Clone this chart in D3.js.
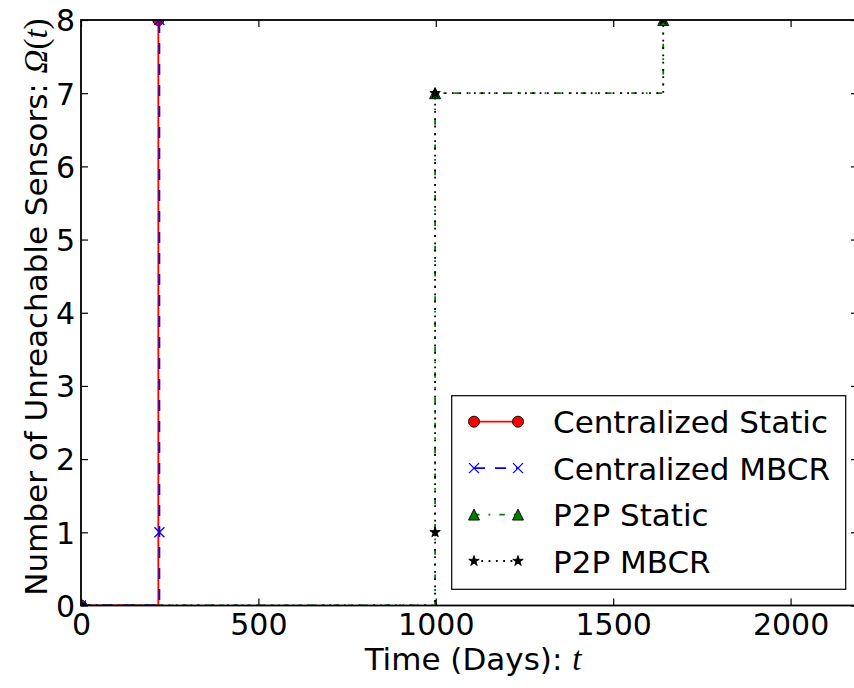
<!DOCTYPE html>
<html>
<head>
<meta charset="utf-8">
<script src="https://cdn.jsdelivr.net/npm/d3@7/dist/d3.min.js"></script>
<style>
  html, body { margin: 0; padding: 0; background: #fff; }
  svg { display: block; }
  text { font-family: "DejaVu Sans", sans-serif; fill: #000; }
  .math { font-family: "Liberation Serif", "DejaVu Serif", serif; font-style: italic; }
  .upright { font-family: "Liberation Serif", "DejaVu Serif", serif; font-style: normal; }
</style>
</head>
<body>
<svg id="chart" width="854" height="688"></svg>
<script>
// Unreachable sensors over time, one step series per routing scheme
const centralStaticDays  = [0, 218];
const centralStaticCount = [0, 8];
const centralMbcrDays    = [0, 221, 221];
const centralMbcrCount   = [0, 1, 8];
const p2pStaticDays      = [0, 998, 1641];
const p2pStaticCount     = [0, 7, 8];
const p2pMbcrDays        = [0, 998, 998, 1641];
const p2pMbcrCount       = [0, 1, 7, 8];

const seriesNames = ["Centralized Static", "Centralized MBCR", "P2P Static", "P2P MBCR"];
const xTickValues = [0, 500, 1000, 1500, 2000];
const yTickValues = [0, 1, 2, 3, 4, 5, 6, 7, 8];
const xDomain = [0, 2190];
const yDomain = [0, 8];

const margin = { left: 81, top: 20, right: 858, bottom: 605.5 };
const svg = d3.select("#chart");

const x = d3.scaleLinear().domain(xDomain).range([margin.left, margin.right]);
const y = d3.scaleLinear().domain(yDomain).range([margin.bottom, margin.top]);

// marker shapes (size = full width in px)
function markerPath(kind, s) {
  const h = s / 2;
  if (kind === "circle") return d3.symbol(d3.symbolCircle, Math.PI * h * h)();
  if (kind === "x") return `M${-h},${-h}L${h},${h}M${-h},${h}L${h},${-h}`;
  if (kind === "triangle") return `M0,${-h}L${h},${h}L${-h},${h}Z`;
  if (kind === "star") return d3.symbol(d3.symbolStar, (h * h) / 0.8908130915292852)();
  return "";
}

const series = [
  { name: seriesNames[0], days: centralStaticDays, count: centralStaticCount,
    color: "#ff0000", dash: null, marker: "circle", fill: "#ff0000", edge: "#000", msize: 11 },
  { name: seriesNames[1], days: centralMbcrDays, count: centralMbcrCount,
    color: "#0000ff", dash: "11,10", marker: "x", fill: "none", edge: "#0000ff", msize: 10 },
  { name: seriesNames[2], days: p2pStaticDays, count: p2pStaticCount,
    color: "#008000", dash: "5.5,9,1.8,9", marker: "triangle", fill: "#008000", edge: "#000", msize: 11 },
  { name: seriesNames[3], days: p2pMbcrDays, count: p2pMbcrCount,
    color: "#000000", dash: "1.8,5.5", marker: "star", fill: "#000", edge: "#000", msize: 11 }
];

svg.append("defs").append("clipPath").attr("id", "plot-clip")
  .append("rect")
  .attr("x", margin.left).attr("y", margin.top)
  .attr("width", margin.right - margin.left)
  .attr("height", margin.bottom - margin.top);

const plot = svg.append("g").attr("clip-path", "url(#plot-clip)");

const line = d3.line()
  .x(d => x(d[0]))
  .y(d => y(d[1]))
  .curve(d3.curveStepAfter);

series.forEach(s => {
  const pts = s.days.map((d, i) => [d, s.count[i]]);
  plot.append("path")
    .datum(pts)
    .attr("d", line)
    .attr("fill", "none")
    .attr("stroke", s.color)
    .attr("stroke-width", 1.8)
    .attr("stroke-dasharray", s.dash);
  plot.selectAll(null)
    .data(pts)
    .enter()
    .append("path")
    .attr("transform", d => `translate(${x(d[0])},${y(d[1])})`)
    .attr("d", markerPath(s.marker, s.msize))
    .attr("fill", s.fill)
    .attr("stroke", s.edge)
    .attr("stroke-width", s.marker === "x" ? 1.3 : 0.9);
});

// axes frame with inward ticks on all sides
const axisStroke = 1.8;
const tickLen = 7;
const frame = svg.append("g");

const xBottom = d3.axisBottom(x).tickValues(xTickValues).tickSize(-tickLen).tickPadding(8).tickFormat(d3.format("d"));
const xTop = d3.axisTop(x).tickValues(xTickValues).tickSize(-tickLen).tickFormat("");
const yLeft = d3.axisLeft(y).tickValues(yTickValues).tickSize(-tickLen).tickPadding(6).tickFormat(d3.format("d"));
const yRight = d3.axisRight(y).tickValues(yTickValues).tickSize(-tickLen).tickFormat("");

function styleAxis(g) {
  g.select(".domain").remove();
  g.selectAll(".tick line").attr("stroke", "#000").attr("stroke-width", 1.2);
  g.selectAll(".tick text")
    .style("font-family", "'DejaVu Sans', sans-serif")
    .style("font-size", "30px")
    .attr("fill", "#000");
}

frame.append("g").attr("transform", `translate(0,${margin.bottom})`).call(xBottom).call(styleAxis);
frame.append("g").attr("transform", `translate(0,${margin.top})`).call(xTop).call(styleAxis);
frame.append("g").attr("class", "y-left").attr("transform", `translate(${margin.left},0)`).call(yLeft).call(styleAxis);
frame.append("g").attr("transform", `translate(${margin.right},0)`).call(yRight).call(styleAxis);

frame.select(".y-left").selectAll(".tick text").attr("dy", "0.36em");

frame.append("rect")
  .attr("x", margin.left).attr("y", margin.top)
  .attr("width", margin.right - margin.left)
  .attr("height", margin.bottom - margin.top)
  .attr("fill", "none")
  .attr("stroke", "#000")
  .attr("stroke-width", axisStroke);

// axis titles
const xLabel = svg.append("text")
  .attr("x", 473).attr("y", 670)
  .attr("text-anchor", "middle")
  .style("font-size", "31px");
xLabel.append("tspan").text("Time (Days): ");
xLabel.append("tspan").attr("class", "math").style("font-size", "33px").text("t");

const yLabel = svg.append("text")
  .attr("transform", "translate(46.5,307) rotate(-90)")
  .attr("text-anchor", "middle")
  .style("font-size", "31px");
yLabel.append("tspan").text("Number of Unreachable Sensors: ");
yLabel.append("tspan").attr("class", "math").style("font-size", "33px").text("Ω");
yLabel.append("tspan").attr("class", "upright").style("font-size", "33px").text("(");
yLabel.append("tspan").attr("class", "math").style("font-size", "33px").text("t");
yLabel.append("tspan").attr("class", "upright").style("font-size", "33px").text(")");

// legend
const legend = svg.append("g");
const lgLeft = 451.7, lgTop = 395.7, lgRight = 845.7, lgBottom = 589.3;
legend.append("rect")
  .attr("x", lgLeft).attr("y", lgTop)
  .attr("width", lgRight - lgLeft).attr("height", lgBottom - lgTop)
  .attr("fill", "#fff").attr("stroke", "#000").attr("stroke-width", 1.2);

const rowY = d3.scalePoint().domain(seriesNames).range([421.7, 561]);
const hx0 = 474, hx1 = 518;
series.forEach(s => {
  const cy = rowY(s.name);
  legend.append("line")
    .attr("x1", hx0).attr("x2", hx1).attr("y1", cy).attr("y2", cy)
    .attr("stroke", s.color).attr("stroke-width", 1.8)
    .attr("stroke-dasharray", s.dash);
  [hx0, hx1].forEach(px => {
    legend.append("path")
      .attr("transform", `translate(${px},${cy})`)
      .attr("d", markerPath(s.marker, s.msize))
      .attr("fill", s.fill)
      .attr("stroke", s.edge)
      .attr("stroke-width", s.marker === "x" ? 1.3 : 0.9);
  });
  legend.append("text")
    .attr("x", 553).attr("y", cy + 11.6)
    .style("font-size", "31px")
    .text(s.name);
});
</script>
</body>
</html>
